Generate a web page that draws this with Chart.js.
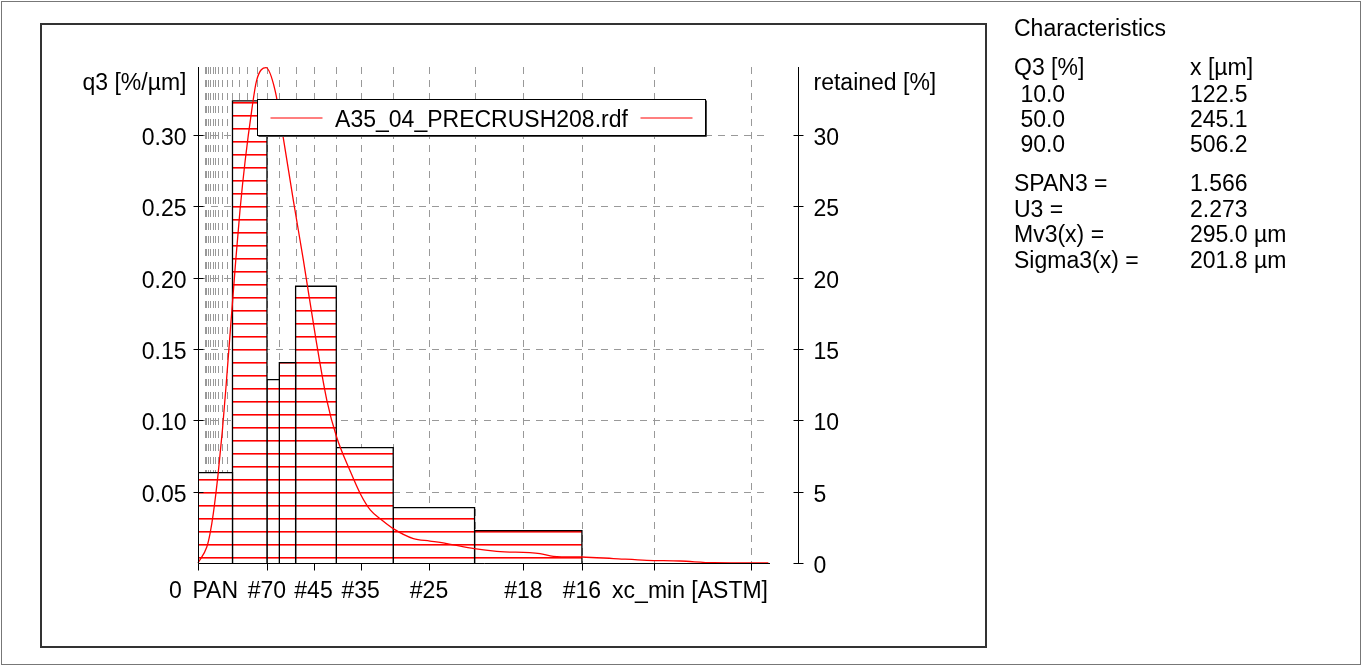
<!DOCTYPE html>
<html>
<head>
<meta charset="utf-8">
<script src="https://cdn.jsdelivr.net/npm/chart.js@4.4.1/dist/chart.umd.min.js"></script>
<style>
body { margin: 0; background: #fff; overflow: hidden; }
#wrap { position: relative; width: 1362px; height: 666px; font-family: "Liberation Sans", Arial, sans-serif; font-size: 23px; color: #000; }
#outer { position: absolute; left: 1px; top: 1px; width: 1360px; height: 664px; border: 1px solid #777; box-sizing: border-box; }
#inner { position: absolute; left: 40px; top: 23px; width: 947px; height: 625px; border: 2px solid #333; box-sizing: border-box; }
canvas { position: absolute; left: 0; top: 0; }
.t { position: absolute; white-space: pre; line-height: 25px; }
</style>
</head>
<body>
<div id="wrap">
  <div id="outer"></div>
  <div id="inner"></div>
  <canvas id="psd" width="1362" height="666"></canvas>
  <div class="t" style="left:1014px;top:16px">Characteristics</div>
  <div class="t" style="left:1014px;top:55px">Q3 [%]</div>
  <div class="t" style="left:1190px;top:55px">x [µm]</div>
  <div class="t" style="left:1014px;top:82px"> 10.0</div>
  <div class="t" style="left:1190px;top:82px">122.5</div>
  <div class="t" style="left:1014px;top:107px"> 50.0</div>
  <div class="t" style="left:1190px;top:107px">245.1</div>
  <div class="t" style="left:1014px;top:132px"> 90.0</div>
  <div class="t" style="left:1190px;top:132px">506.2</div>
  <div class="t" style="left:1014px;top:171px">SPAN3 =</div>
  <div class="t" style="left:1190px;top:171px">1.566</div>
  <div class="t" style="left:1014px;top:197px">U3 =</div>
  <div class="t" style="left:1190px;top:197px">2.273</div>
  <div class="t" style="left:1014px;top:222px">Mv3(x) =</div>
  <div class="t" style="left:1190px;top:222px">295.0 µm</div>
  <div class="t" style="left:1014px;top:248px">Sigma3(x) =</div>
  <div class="t" style="left:1190px;top:248px">201.8 µm</div>
</div>
<script>
// sieve bins (µm, ASTM openings) and mass retained on each, in %
const binEdges = [0, 106, 212, 250, 300, 425, 600, 850, 1180];
const retained = [6.33, 32.38, 12.85, 14.04, 19.39, 8.09, 3.88, 2.27];

// q3 density curve
const curveX = [0, 27, 37, 47, 62, 75, 86, 116, 129, 145, 165, 180, 209, 237, 262, 293, 324, 363, 396, 426, 467, 500, 530, 560, 600, 662, 713, 765, 849, 918, 1051, 1092, 1180, 1277, 1379, 1482, 1584, 1753];
const curveQ3 = [0, 0.0112, 0.0206, 0.0346, 0.0628, 0.093, 0.1233, 0.212, 0.247, 0.282, 0.317, 0.338, 0.347, 0.331, 0.298, 0.254, 0.212, 0.156, 0.114, 0.0883, 0.0648, 0.048, 0.037, 0.031, 0.0241, 0.0171, 0.0154, 0.0136, 0.0101, 0.0082, 0.0066, 0.0047, 0.0042, 0.0031, 0.0019, 0.0014, 0.0002, 0];

// sieve series used for the vertical grid
const gridSizes = [20, 25, 32, 38, 45, 53, 63, 75, 90, 106, 125, 150, 180, 212, 250, 300, 355, 425, 500, 600, 710, 850, 1000, 1180, 1400, 1700];
const meshTicks = [212, 355, 500, 710, 1000, 1180];
const meshLabels = ['#70', '#45', '#35', '#25', '#18', '#16'];
const unlabeledTicks = [0, 1400, 1700];
const q3Ticks = [0.05, 0.10, 0.15, 0.20, 0.25, 0.30];
const q3Labels = ['0.05', '0.10', '0.15', '0.20', '0.25', '0.30'];
const retTicks = [0, 5, 10, 15, 20, 25, 30];
const legendText = 'A35_04_PRECRUSH208.rdf';

const FONT = '23px "Liberation Sans", Arial, sans-serif';
const Q3_MAX = 0.3475;

// red horizontal hatching for the bars
function makeHatch() {
    const c = document.createElement('canvas');
    c.width = 10; c.height = 13;
    const g = c.getContext('2d');
    g.fillStyle = '#fff';
    g.fillRect(0, 0, 10, 13);
    g.fillStyle = '#ff0000';
    g.fillRect(0, 11, 10, 1);
    g.fillStyle = 'rgba(255,0,0,0.6)';
    g.fillRect(0, 12, 10, 1);
    return g.createPattern(c, 'repeat');
}
const hatch = makeHatch();

const barSets = retained.map((v, i) => ({
    data: [
        { x: binEdges[i], y: 0 }, { x: binEdges[i], y: v },
        { x: binEdges[i + 1], y: v }, { x: binEdges[i + 1], y: 0 }
    ],
    yAxisID: 'y2',
    borderColor: '#000',
    borderWidth: 1.3,
    backgroundColor: hatch,
    fill: 'origin',
    pointRadius: 0,
    tension: 0,
    order: 1
}));

const curveSet = {
    data: curveX.map((x, i) => ({ x: x, y: curveQ3[i] })),
    yAxisID: 'y',
    borderColor: '#ff0000',
    borderWidth: 1.3,
    pointRadius: 0,
    fill: false,
    cubicInterpolationMode: 'monotone',
    clip: 4,
    order: 0
};

function line(ctx, x1, y1, x2, y2) {
    ctx.beginPath();
    ctx.moveTo(x1, y1);
    ctx.lineTo(x2, y2);
    ctx.stroke();
}

const decor = {
    id: 'decor',
    beforeDatasetsDraw(chart) {
        const ctx = chart.ctx, a = chart.chartArea;
        const xs = chart.scales.x, ys = chart.scales.y;
        ctx.save();
        ctx.strokeStyle = '#999';
        ctx.lineWidth = 1;
        ctx.setLineDash([7, 6]);
        gridSizes.forEach(s => {
            const px = Math.round(xs.getPixelForValue(s)) + 0.5;
            line(ctx, px, a.top, px, a.bottom);
        });
        q3Ticks.forEach(t => {
            const py = Math.round(ys.getPixelForValue(t)) + 0.5;
            line(ctx, a.left, py, a.right, py);
        });
        ctx.restore();
    },
    afterDatasetsDraw(chart) {
        const ctx = chart.ctx, a = chart.chartArea;
        const xs = chart.scales.x, ys = chart.scales.y, y2 = chart.scales.y2;
        const x0 = Math.round(xs.getPixelForValue(0)) + 0.5;
        const yb = Math.round(ys.getPixelForValue(0)) + 0.5;
        const rx = Math.round(a.right) + 28.5;
        ctx.save();
        ctx.strokeStyle = '#000';
        ctx.fillStyle = '#000';
        ctx.lineWidth = 1;
        // axis lines
        line(ctx, x0, a.top, x0, yb);
        line(ctx, rx, a.top, rx, yb);
        line(ctx, x0, yb, a.right, yb);
        ctx.font = FONT;
        // left axis
        ctx.textAlign = 'right';
        q3Ticks.forEach((t, i) => {
            const py = Math.round(ys.getPixelForValue(t)) + 0.5;
            line(ctx, x0 - 5, py, x0 + 5, py);
            ctx.fillText(q3Labels[i], x0 - 12, py + 9.5);
        });
        ctx.fillText('q3 [%/µm]', x0 - 12, 90);
        // right axis
        ctx.textAlign = 'left';
        retTicks.forEach(t => {
            const py = Math.round(y2.getPixelForValue(t)) + 0.5;
            line(ctx, rx - 5, py, rx + 5, py);
            ctx.fillText(String(t), rx + 15, py + 9.5);
        });
        ctx.fillText('retained [%]', rx + 15, 90);
        // bottom axis
        ctx.textAlign = 'center';
        unlabeledTicks.concat(meshTicks).forEach(s => {
            const px = Math.round(xs.getPixelForValue(s)) + 0.5;
            line(ctx, px, yb, px, yb + 7);
        });
        meshTicks.forEach((s, i) => {
            ctx.fillText(meshLabels[i], xs.getPixelForValue(s), yb + 34.5);
        });
        ctx.fillText('PAN', xs.getPixelForValue((binEdges[0] + binEdges[1]) / 2), yb + 34.5);
        ctx.fillText('0', x0 - 23, yb + 34.5);
        ctx.textAlign = 'right';
        ctx.fillText('xc_min [ASTM]', a.right - 2, yb + 34.5);
        // legend box
        const lx = 257.5, ly = 99.5, lw = 448, lh = 36;
        ctx.fillStyle = '#fff';
        ctx.fillRect(lx, ly, lw, lh);
        ctx.strokeStyle = '#000';
        ctx.strokeRect(lx, ly, lw, lh);
        ctx.strokeStyle = '#444';
        line(ctx, lx + 1, ly + lh + 1, lx + lw + 1, ly + lh + 1);
        line(ctx, lx + lw + 1, ly + 1, lx + lw + 1, ly + lh + 1);
        ctx.strokeStyle = '#ff0000';
        ctx.lineWidth = 1.2;
        line(ctx, lx + 13, ly + 18.5, lx + 65, ly + 18.5);
        line(ctx, lx + lw - 65, ly + 18.5, lx + lw - 13, ly + 18.5);
        ctx.fillStyle = '#000';
        ctx.textAlign = 'center';
        ctx.fillText(legendText, lx + lw / 2, ly + 27);
        ctx.restore();
    }
};

new Chart(document.getElementById('psd'), {
    type: 'line',
    data: { datasets: [curveSet].concat(barSets) },
    options: {
        responsive: false,
        animation: false,
        devicePixelRatio: 1,
        layout: { padding: { left: 198, top: 67, right: 1362 - 770, bottom: 666 - 563 } },
        plugins: { legend: { display: false }, tooltip: { enabled: false } },
        scales: {
            x: { type: 'linear', min: 0, max: 1758, display: false },
            y: { type: 'linear', min: 0, max: Q3_MAX, display: false },
            y2: { type: 'linear', position: 'right', min: 0, max: Q3_MAX * 100, display: false }
        }
    },
    plugins: [decor]
});
</script>
</body>
</html>
